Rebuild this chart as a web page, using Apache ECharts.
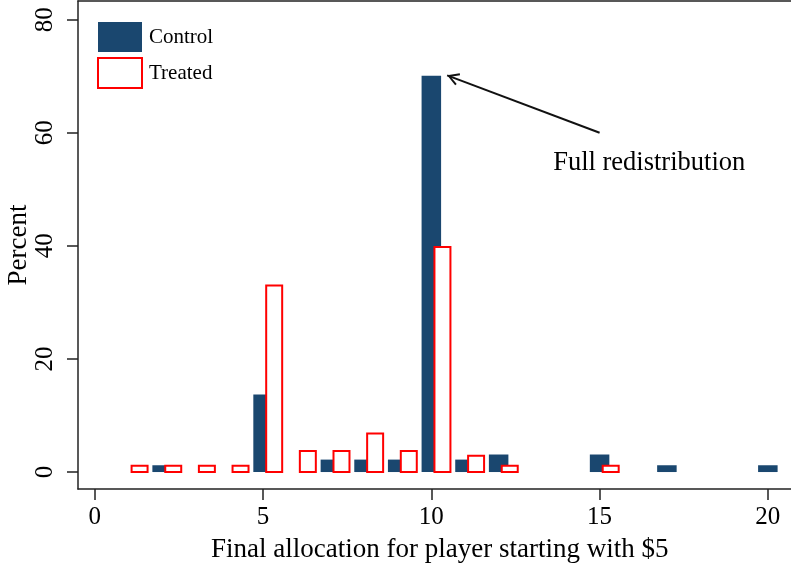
<!DOCTYPE html>
<html><head><meta charset="utf-8">
<script src="https://cdn.jsdelivr.net/npm/echarts@6/dist/echarts.min.js"></script>
<style>html,body{margin:0;padding:0;background:#fff}#c{width:791px;height:564px}</style>
</head><body><div id="c"></div>
<script>
// ---- data ----
const controlX = [2, 5, 7, 8, 9, 10, 11, 12, 15, 17, 20];
const controlPct = [1.2, 13.7, 2.2, 2.2, 2.2, 70.1, 2.2, 3.1, 3.1, 1.2, 1.2];
const treatedX = [1, 2, 3, 4, 5, 6, 7, 8, 9, 10, 11, 12, 15];
const treatedPct = [1.1, 1.1, 1.1, 1.1, 33.0, 3.7, 3.7, 6.8, 3.7, 39.8, 2.9, 1.1, 1.1];
const xTicks = [0, 5, 10, 15, 20];
const yTicks = [0, 20, 40, 60, 80];
const seriesNames = ['Control', 'Treated'];
const xTitle = 'Final allocation for player starting with $5';
const yTitle = 'Percent';
const annotationText = 'Full redistribution';
const arrowFrom = [15, 60];
const arrowTo = [10.47, 70.15];
const annotationAt = [13.62, 54.6];

// ---- style ----
const NAVY = '#1a476f', RED = '#ff0000', INK = '#000';
const FONT = '"Liberation Serif", "Times New Roman", serif';
const CONTROL_W = 0.58, TREATED_W = 0.475, TREATED_OFFSET = 0.33;
// open chevron, tip at centre of its bounding box (invisible speck above it)
const ARROW_HEAD = 'path://M5,0 L10,9 L8.6,9.8 L5,3 L1.4,9.8 L0,9 Z M5,-9.8 L5.01,-9.8 L5,-9.79 Z';

function barRender(offset, width, style) {
  return function (params, api) {
    const x = api.value(0), y = api.value(1);
    const top = api.coord([x + offset, y]);
    const base = api.coord([x + offset, 0]);
    const w = api.size([width, 0])[0];
    return {
      type: 'rect',
      shape: { x: top[0] - w / 2, y: top[1], width: w, height: base[1] - top[1] },
      style: style
    };
  };
}

const controlData = controlX.map((x, i) => [x, controlPct[i]]);
const treatedData = treatedX.map((x, i) => [x, treatedPct[i]]);

const axisLine = { show: true, onZero: false, lineStyle: { color: '#222', width: 1.5 } };

const chart = echarts.init(document.getElementById('c'), null, { renderer: 'canvas' });
chart.setOption({
  animation: false,
  backgroundColor: '#fff',
  grid: { left: 78, right: -10.5, top: 1, bottom: 75, containLabel: false, outerBoundsMode: 'none' },
  legend: {
    orient: 'vertical', left: 97, top: 22, padding: 0,
    itemWidth: 44, itemHeight: 30, itemGap: 5,
    textStyle: { fontSize: 21, fontFamily: FONT, color: INK, padding: [3, 0, 0, 2] },
    data: [
      { name: seriesNames[0], icon: 'rect', itemStyle: { color: NAVY, borderWidth: 0 } },
      { name: seriesNames[1], icon: 'rect', itemStyle: { color: '#fff', borderColor: RED, borderWidth: 2 } }
    ]
  },
  xAxis: [{
    type: 'value', min: -0.5, max: 21, position: 'bottom',
    axisLine: axisLine,
    axisTick: { show: true, customValues: xTicks, length: 11, lineStyle: { color: '#222', width: 1.5 } },
    axisLabel: { customValues: xTicks, fontSize: 25, margin: 16, fontFamily: FONT, color: INK },
    splitLine: { show: false },
    name: xTitle, nameLocation: 'middle', nameGap: 47, nameMoveOverlap: false,
    nameTextStyle: { fontSize: 27, fontFamily: FONT, color: INK }
  }, {
    type: 'value', min: -0.5, max: 21, position: 'top',
    axisLine: axisLine, axisTick: { show: false }, axisLabel: { show: false }, splitLine: { show: false }
  }],
  yAxis: {
    type: 'value', min: -3, max: 83.3, position: 'left',
    axisLine: axisLine,
    axisTick: { show: true, customValues: yTicks, length: 11, lineStyle: { color: '#222', width: 1.5 } },
    axisLabel: { customValues: yTicks, rotate: 90, fontSize: 25, margin: 20, fontFamily: FONT, color: INK },
    splitLine: { show: false },
    name: yTitle, nameLocation: 'middle', nameRotate: 90, nameGap: 46, nameMoveOverlap: false,
    nameTextStyle: { fontSize: 27, fontFamily: FONT, color: INK }
  },
  series: [{
    name: seriesNames[0], type: 'custom', z: 2,
    itemStyle: { color: NAVY },
    encode: { x: 0, y: 1 },
    data: controlData,
    renderItem: barRender(0, CONTROL_W, { fill: NAVY })
  }, {
    name: seriesNames[1], type: 'custom', z: 3,
    itemStyle: { color: '#fff', borderColor: RED, borderWidth: 2 },
    encode: { x: 0, y: 1 },
    data: treatedData,
    renderItem: barRender(TREATED_OFFSET, TREATED_W, { fill: '#fff', stroke: RED, lineWidth: 2 })
  }, {
    name: 'annotation', type: 'line', data: [], silent: true, z: 5,
    markLine: {
      silent: true, animation: false,
      symbol: ['none', ARROW_HEAD],
      symbolSize: [13, 24],
      lineStyle: { color: '#111', width: 2, type: 'solid' },
      label: { show: false },
      data: [[{ coord: arrowFrom }, { coord: arrowTo }]]
    },
    markPoint: {
      silent: true, symbol: 'circle', symbolSize: 0,
      label: { show: true, position: 'right', distance: 0, formatter: annotationText, fontSize: 26.5, fontFamily: FONT, color: INK },
      data: [{ coord: annotationAt }]
    }
  }]
});
</script></body></html>
